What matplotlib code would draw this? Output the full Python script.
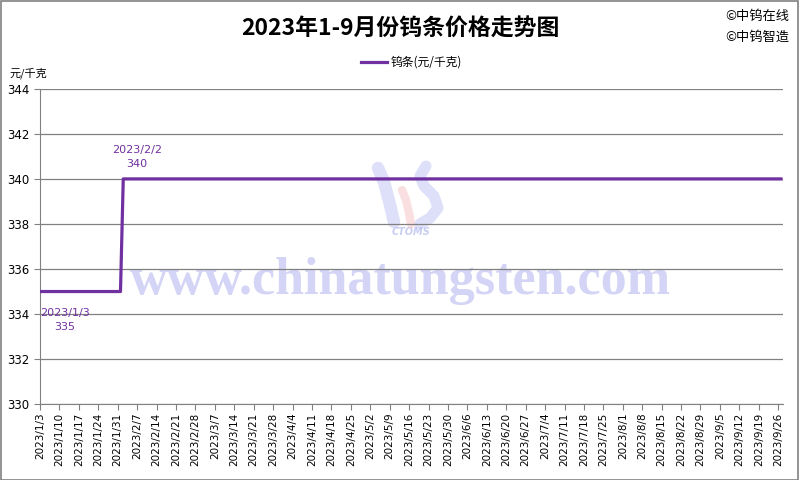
import numpy as np
import pandas as pd
import matplotlib
matplotlib.use("Agg")
import matplotlib.pyplot as plt
from matplotlib.patches import Rectangle

plt.rcParams['font.family'] = ['Noto Sans CJK SC', 'DejaVu Sans']

# price change points (元/千克)
dates = ["2023-01-03", "2023-02-01", "2023-02-02", "2023-09-27"]
prices = [335, 335, 340, 340]
tick_start = "2023-01-03"
tick_end = "2023-09-26"
title = "2023年1-9月份钨条价格走势图"
series_name = "钨条(元/千克)"

purple = "#7030A0"
x = pd.to_datetime(dates)
ticks = pd.date_range(tick_start, tick_end, freq="7D")

fig = plt.figure(figsize=(8, 4.8), dpi=100)
ax = fig.add_axes([0.05, 0.158, 0.929, 0.657])

ax.plot(x, prices, color=purple, lw=2.3, label=series_name, zorder=3)

ax.set_ylim(330, 344)
ax.set_yticks(np.arange(330, 345, 2))
ax.set_xlim(x[0], x[-1] + pd.Timedelta(days=0.8))
ax.set_xticks(ticks)
ax.set_xticklabels([f"{d.year}/{d.month}/{d.day}" for d in ticks],
                   rotation=90, fontsize=7.5, family='DejaVu Sans')
ax.tick_params(axis='y', labelsize=8.5, length=4, color='#808080')
ax.tick_params(axis='x', length=4, color='#808080', pad=2)
for lab in ax.get_yticklabels():
    lab.set_family('DejaVu Sans')
ax.yaxis.grid(True, color='#808080', lw=0.9, zorder=2)
for s in ['top', 'right']:
    ax.spines[s].set_visible(False)
for s in ['left', 'bottom']:
    ax.spines[s].set_color('#808080')

# point labels
ax.annotate("2023/1/3\n335", (x[0], prices[0]), xytext=(18, -12),
            textcoords='offset points', ha='center', va='top',
            color=purple, fontsize=8, family='DejaVu Sans', linespacing=1.5)
ax.annotate("2023/2/2\n340", (x[2], prices[2]), xytext=(10, 7),
            textcoords='offset points', ha='center', va='bottom',
            color=purple, fontsize=8, family='DejaVu Sans', linespacing=1.5)

# watermark (behind gridlines)
ax.text(0.5, 0.415, "www.chinatungsten.com", transform=fig.transFigure,
        ha='center', va='center', family='Liberation Serif', weight='bold',
        fontsize=37.5, color='#d4d4f6', zorder=0)
ax.text(0.514, 0.517, "CTOMS", transform=fig.transFigure, ha='center', va='center',
        fontsize=7, style='italic', weight='bold', color='#c8cdf2',
        family='DejaVu Sans', zorder=0)


def swoosh(px, py, color, lw):
    ax.plot(np.array(px) / 800, 1 - np.array(py) / 480, transform=fig.transFigure,
            color=color, lw=lw, solid_capstyle='round', alpha=0.45, zorder=0.5)


swoosh([378, 384, 390, 394], [168, 182, 205, 222], '#b4bcf0', 9)
swoosh([426, 420, 424, 434, 438, 430, 420], [166, 176, 186, 196, 208, 218, 224], '#b4bcf0', 8)
swoosh([402, 406, 409, 411], [190, 200, 213, 224], '#f6b8bc', 6)

ax.legend(loc='lower center', bbox_to_anchor=(0.5, 1.03), frameon=False,
          fontsize=8.5, handlelength=2.2, handletextpad=0.3)

fig.text(0.5, 0.94, title, ha='center', va='center', fontsize=16.5, weight='bold')
fig.text(0.012, 0.848, "元/千克", ha='left', va='center', fontsize=8)
fig.text(0.907, 0.965, "©中钨在线", ha='left', va='center', fontsize=9.5)
fig.text(0.907, 0.923, "©中钨智造", ha='left', va='center', fontsize=9.5)

fig.patches.append(Rectangle((0.001, 0.001), 0.997, 0.997, transform=fig.transFigure,
                             fill=False, edgecolor='#808080', lw=1.2))

fig.savefig("out.png", dpi=100)
